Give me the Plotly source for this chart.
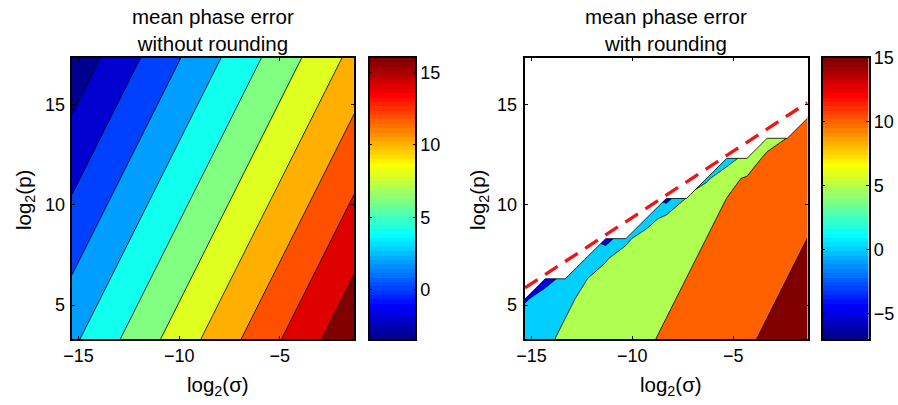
import plotly.graph_objects as go

W, H = 898, 405

# ---------------- data ----------------
grid_x = [-15.32, -14.32, -13.32, -12.32, -11.32, -10.32, -9.32, -8.32,
          -7.32, -6.32, -5.32, -4.32, -3.32, -2.32, -1.32]
grid_y = [3.32, 4.32, 5.32, 6.32, 7.32, 8.32, 9.32, 10.32,
          11.32, 12.32, 13.32, 14.32, 15.32, 16.32, 17.32]

# left panel (without rounding): coarse grid of read-off values
left_x = [-15.32, -8.32, -1.32]
left_y = [3.32, 10.32, 17.32]
left_z = [[3.60, 10.60, 17.60],
          [0.10, 7.10, 14.10],
          [-3.40, 3.60, 10.60]]

# right panel (with rounding): rows = grid_y, cols = grid_x, None = no data
N = None
right_z = [
    [3.52, 4.52, 5.52, 6.52, 7.52, 8.52, 9.52, 10.52, 11.52, 12.52, 13.52, 14.52, 15.52, 16.52, 17.52],
    [3.02, 4.02, 5.02, 6.02, 7.02, 8.02, 9.02, 10.02, 11.02, 12.02, 13.02, 14.02, 15.02, 16.02, 17.02],
    [-0.8, 3.00, 4.52, 5.52, 6.52, 7.52, 8.52, 9.52, 10.52, 11.52, 12.52, 13.52, 14.52, 15.52, 16.52],
    [N, -2.5, 2.00, 4.90, 6.02, 7.02, 8.02, 9.02, 10.02, 11.02, 12.02, 13.02, 14.02, 15.02, 16.02],
    [N, N, N, 2.50, 4.77, 6.52, 7.52, 8.52, 9.52, 10.52, 11.52, 12.52, 13.52, 14.52, 15.52],
    [N, N, N, N, -2.5, 4.21, 7.02, 8.02, 9.02, 10.02, 11.02, 12.02, 13.02, 14.02, 15.02],
    [N, N, N, N, N, N, 2.75, 6.50, 8.52, 9.52, 10.52, 11.52, 12.52, 13.52, 14.52],
    [N, N, N, N, N, N, N, -2.0, 5.30, 9.02, 10.02, 11.02, 12.02, 13.02, 14.02],
    [N, N, N, N, N, N, N, N, N, 4.00, 9.30, 10.30, 11.52, 12.52, 13.52],
    [N, N, N, N, N, N, N, N, N, N, 2.00, 7.50, 11.00, 12.02, 13.02],
    [N, N, N, N, N, N, N, N, N, N, N, N, 8.00, 10.10, 12.52],
    [N, N, N, N, N, N, N, N, N, N, N, N, N, N, 12.00],
    [N] * 15,
    [N] * 15,
    [N] * 15,
]

left_levels = [-2, 16, 2]      # start, end, step
right_levels = [-5, 15, 5]
left_clim = [-3.4, 16.0]
right_clim = [-7.0, 15.0]
left_cbar_ticks = [0, 5, 10, 15]
right_cbar_ticks = [-5, 0, 5, 10, 15]
x_ticks = [-15, -10, -5]
y_ticks = [5, 10, 15]

limit_x = [-15.32, -1.32]       # red dashed line
limit_y = [5.87, 15.10]

titles = ["mean phase error<br>without rounding", "mean phase error<br>with rounding"]
xlabel = "log<sub>2</sub>(σ)"
ylabel = "log<sub>2</sub>(p)"

# ---------------- styles ----------------
FONT = "Liberation Sans, Arial, Helvetica, sans-serif"
TICK_SIZE = 18


def jet(i):
    """MATLAB jet(64), row i (1..64)."""
    cl = lambda v: max(0.0, min(1.0, v))
    r = cl(min((i - 24) / 16, (72 - i) / 16))
    g = cl(min((i - 8) / 16, (56 - i) / 16))
    b = cl(min((i + 8) / 16, (40 - i) / 16))
    return "rgb(%d,%d,%d)" % (round(r * 255), round(g * 255), round(b * 255))


def cidx(v, clim):
    t = (v - clim[0]) / (clim[1] - clim[0])
    return max(1, min(64, int(t * 64) + 1))


def band_scale(levels, clim):
    start, end, step = levels
    lv = []
    v = start
    while v <= end + 1e-9:
        lv.append(v)
        v += step
    nc = len(lv)
    cols = [jet(1)] + [jet(cidx(L, clim)) for L in lv]
    return [[k / nc, c] for k, c in enumerate(cols)]


def px(x):
    return x / W


def py(y):
    return 1 - y / H


main_y_dom = [py(339), py(58)]
doms = {
    "x": [px(72), px(354)],
    "x2": [px(370), px(415)],
    "x3": [px(525), px(807.5)],
    "x4": [px(823), px(868.5)],
}

jet_scale = [[i / 63, jet(i + 1)] for i in range(64)]

fig = go.Figure()

# left contour
fig.add_trace(go.Contour(
    x=left_x, y=left_y, z=left_z, xaxis="x", yaxis="y",
    autocontour=False,
    contours=dict(start=left_levels[0], end=left_levels[1], size=left_levels[2],
                  coloring="fill", showlines=True),
    colorscale=band_scale(left_levels, left_clim),
    line=dict(color="black", width=0.8, smoothing=0),
    showscale=False, hoverinfo="skip"))

# right contour
fig.add_trace(go.Contour(
    x=grid_x, y=grid_y, z=right_z, xaxis="x3", yaxis="y3",
    autocontour=False,
    contours=dict(start=right_levels[0], end=right_levels[1], size=right_levels[2],
                  coloring="fill", showlines=True),
    colorscale=band_scale(right_levels, right_clim),
    line=dict(color="black", width=0.8, smoothing=0),
    showscale=False, hoverinfo="skip"))

# no-data region mask (derived from the None cells of right_z)
jmax = []
for k in range(len(grid_x)):
    top = 0
    for j in range(len(grid_y)):
        if right_z[j][k] is not None:
            top = j
    jmax.append(top)
edge_x = list(grid_x)
edge_y = [grid_y[j] for j in jmax]
fig.add_trace(go.Scatter(
    x=edge_x + [grid_x[-1], grid_x[0]], y=edge_y + [grid_y[-1], grid_y[-1]],
    xaxis="x3", yaxis="y3", mode="lines", fill="toself", fillcolor="white",
    line=dict(width=0, color="white"), hoverinfo="skip", showlegend=False))
fig.add_trace(go.Scatter(
    x=edge_x, y=edge_y, xaxis="x3", yaxis="y3", mode="lines",
    line=dict(color="black", width=0.8), hoverinfo="skip", showlegend=False))

# red dashed limit
fig.add_trace(go.Scatter(
    x=limit_x, y=limit_y, xaxis="x3", yaxis="y3", mode="lines",
    line=dict(color="rgb(240,20,20)", width=3.3, dash="15px,9px"),
    hoverinfo="skip", showlegend=False))

# colorbars
for xa, ya, clim in (("x2", "y2", left_clim), ("x4", "y4", right_clim)):
    d = (clim[1] - clim[0]) / 64
    fig.add_trace(go.Heatmap(
        z=[[i] for i in range(64)], x0=0.5, dx=1, y0=clim[0] + d / 2, dy=d,
        xaxis=xa, yaxis=ya, colorscale=jet_scale, zmin=0, zmax=63,
        showscale=False, hoverinfo="skip"))

axis_common = dict(showline=True, linecolor="black", linewidth=1.5, mirror="allticks",
                   ticks="inside", ticklen=3, tickcolor="black", tickwidth=1,
                   showgrid=False, zeroline=False, automargin=False,
                   tickfont=dict(family=FONT, size=TICK_SIZE, color="black"))

layout = dict(template="none", width=W, height=H, autosize=False,
              margin=dict(l=0, r=0, t=0, b=0, pad=0),
              paper_bgcolor="white", plot_bgcolor="white", showlegend=False)

layout["xaxis"] = dict(axis_common, domain=doms["x"], range=[-15.32, -1.32],
                       tickvals=x_ticks, anchor="y")
layout["yaxis"] = dict(axis_common, domain=main_y_dom, range=[3.32, 17.32],
                       tickvals=y_ticks, anchor="x", showticklabels=False)
layout["xaxis3"] = dict(axis_common, domain=doms["x3"], range=[-15.32, -1.32],
                        tickvals=x_ticks, anchor="y3")
layout["yaxis3"] = dict(axis_common, domain=main_y_dom, range=[3.32, 17.32],
                        tickvals=y_ticks, anchor="x3", showticklabels=False)

for xa, ya, clim, tv in (("xaxis2", "yaxis2", left_clim, left_cbar_ticks),
                         ("xaxis4", "yaxis4", right_clim, right_cbar_ticks)):
    xn = "x" + xa[5:]
    yn = "y" + ya[5:]
    layout[xa] = dict(domain=doms[xn], range=[0, 1], showline=True, linecolor="black",
                      linewidth=1.5, mirror=True, ticks="", showticklabels=False,
                      showgrid=False, zeroline=False, anchor=yn, fixedrange=True,
                      automargin=False)
    layout[ya] = dict(axis_common, domain=main_y_dom, range=clim, tickvals=tv,
                      side="right", anchor=xn, ticklen=2.5)

ann = []
# y tick labels of the two main panels
for yref, edge in (("y", 72 - 5.5), ("y3", 525 - 6.5)):
    for v in y_ticks:
        ann.append(dict(text=str(v), x=px(edge), y=v, xref="paper", yref=yref,
                        xanchor="right", yanchor="middle", showarrow=False,
                        font=dict(family=FONT, size=TICK_SIZE, color="black")))
for cx, t in ((213, titles[0]), (666, titles[1])):
    ann.append(dict(text=t, x=px(cx), y=py(30), xref="paper", yref="paper",
                    xanchor="center", yanchor="middle", showarrow=False,
                    font=dict(family=FONT, size=20.5, color="black")))
    ann.append(dict(text=xlabel, x=px(cx + 5), y=py(386), xref="paper", yref="paper",
                    xanchor="center", yanchor="middle", showarrow=False,
                    font=dict(family=FONT, size=20.5, color="black")))
for cx in (25, 479):
    ann.append(dict(text=ylabel, x=px(cx), y=py(200), xref="paper", yref="paper",
                    xanchor="center", yanchor="middle", showarrow=False, textangle=-90,
                    font=dict(family=FONT, size=20.5, color="black")))
layout["annotations"] = ann

fig.update_layout(**layout)
fig.write_html("out.html", config={"displayModeBar": False},
               post_script="document.body.style.margin='0px';")
